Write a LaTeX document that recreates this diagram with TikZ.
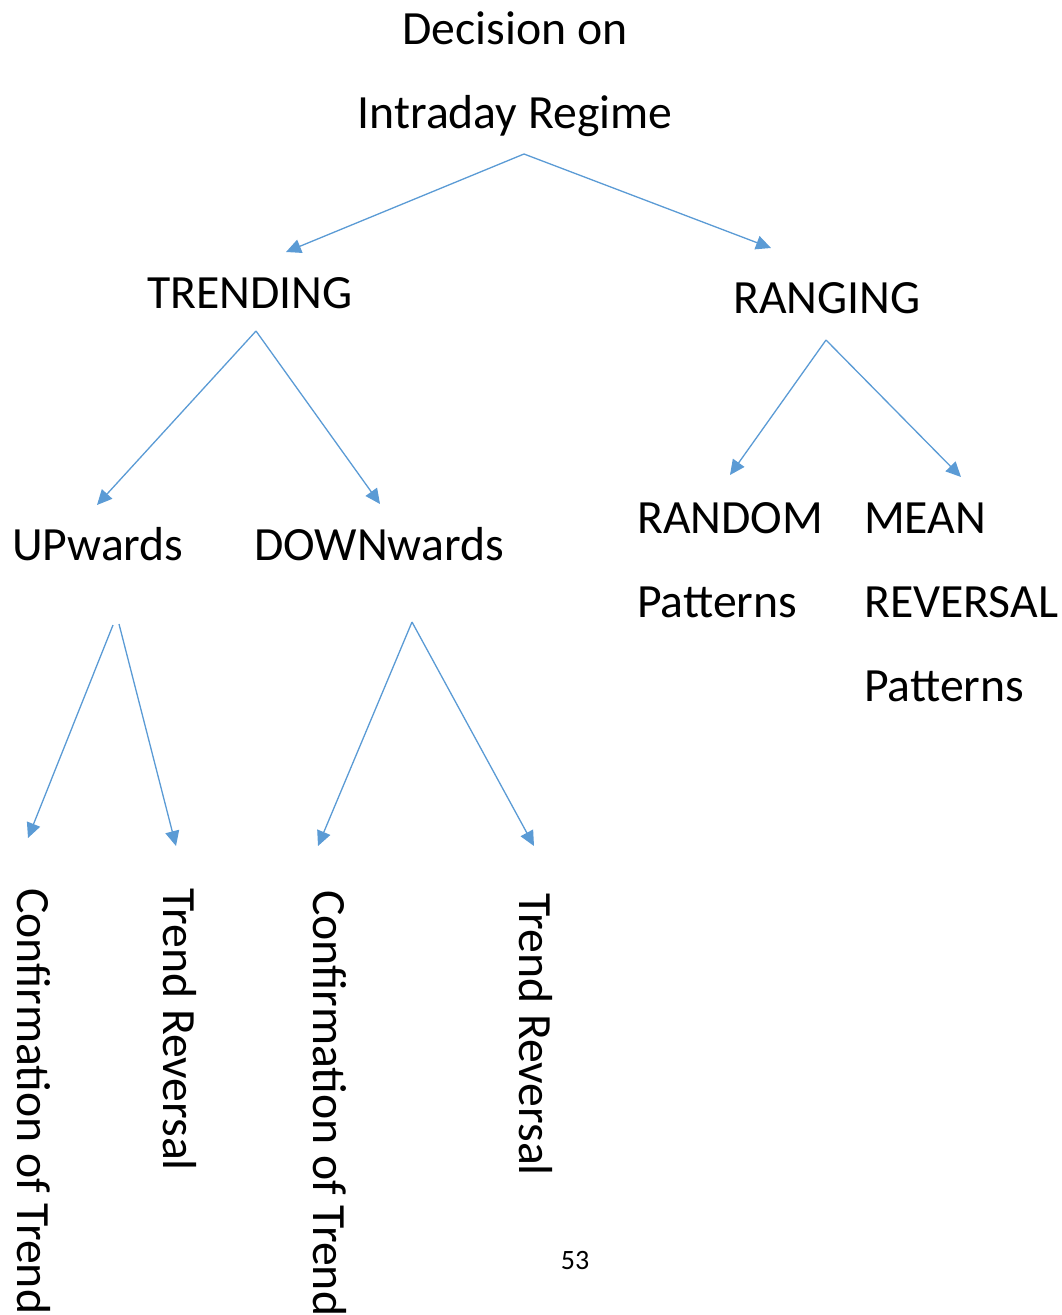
\documentclass[tikz,border=0pt]{standalone}
\usepackage{fontspec}
\setmainfont{Carlito}
\usepackage{tikz}
\usetikzlibrary{arrows.meta}
\definecolor{wordblue}{HTML}{5B9BD5}
\tikzset{
  >={Triangle[length=15pt,width=14pt]},
  label/.style={inner sep=0pt, anchor=base west, font=\fontsize{47.7}{84}\selectfont},
  vlabel/.style={inner sep=0pt, anchor=base west, rotate=-90, font=\fontsize{47.7}{84}\selectfont},
  branch/.style={->, draw=wordblue, fill=wordblue, line width=1.3pt},
}

\begin{document}
\begin{tikzpicture}[x=1pt, y=-1pt]
    \useasboundingbox (0,0) rectangle (1062,1315);
    % Wurzel
    \node[label, align=center, anchor=base] (root) at (515,128) {Decision on\\Intraday Regime};
    % Ebene 1
    \node[label] (trend) at (147,308) {TRENDING};
    \node[label] (range) at (733,313) {RANGING};
    % Ebene 2
    \node[label] (up)     at (12,560)  {UPwards};
    \node[label] (down)   at (254,560) {DOWNwards};
    \node[label, align=left] (random) at (637,617) {RANDOM\\Patterns};
    \node[label, align=left] (mean)   at (864,701) {MEAN\\REVERSAL\\Patterns};
    % Ebene 3
    \node[vlabel] (upconf) at (17,888)  {Confirmation of Trend};
    \node[vlabel] (uprev)  at (163,888) {Trend Reversal};
    \node[vlabel] (dnconf) at (313,890) {Confirmation of Trend};
    \node[vlabel] (dnrev)  at (519,893) {Trend Reversal};
    % Seitenzahl
    \node[inner sep=0pt, anchor=base, font=\fontsize{28}{34}\selectfont] (page) at (575,1269) {53};
    % Pfeilenden
    \coordinate (root-s)   at (524,154);
    \coordinate (trend-n)  at (286,252);
    \coordinate (range-n)  at (771,248);
    \coordinate (trend-s)  at (256,331);
    \coordinate (up-n)     at (97,505);
    \coordinate (down-n)   at (380,504);
    \coordinate (range-s)  at (826,340);
    \coordinate (random-n) at (730,475);
    \coordinate (mean-n)   at (961,477);
    \coordinate (up-sl)    at (113,625);
    \coordinate (up-sr)    at (119,624);
    \coordinate (upconf-n) at (28,838);
    \coordinate (uprev-n)  at (176,846);
    \coordinate (down-s)   at (412,622);
    \coordinate (dnconf-n) at (318,846);
    \coordinate (dnrev-n)  at (534,846);
    \draw[branch] (root-s) -- (trend-n);
    \draw[branch] (root-s) -- (range-n);
    \draw[branch] (trend-s) -- (up-n);
    \draw[branch] (trend-s) -- (down-n);
    \draw[branch] (range-s) -- (random-n);
    \draw[branch] (range-s) -- (mean-n);
    \draw[branch] (up-sl) -- (upconf-n);
    \draw[branch] (up-sr) -- (uprev-n);
    \draw[branch] (down-s) -- (dnconf-n);
    \draw[branch] (down-s) -- (dnrev-n);
\end{tikzpicture}
\end{document}
